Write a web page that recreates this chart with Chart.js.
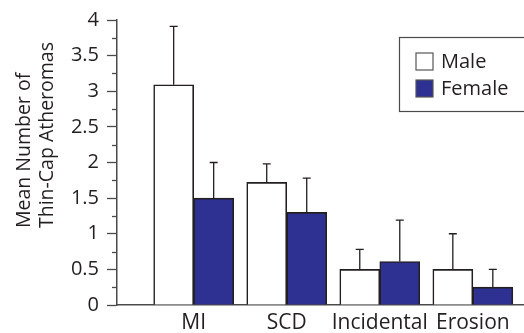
<!DOCTYPE html>
<html><head><meta charset="utf-8">
<script src="https://cdn.jsdelivr.net/npm/chart.js@4/dist/chart.umd.min.js"></script>
<style>html,body{margin:0;padding:0;background:#fff}#wrap{width:524px;height:333px;position:relative}</style>
</head><body><div id="wrap"><canvas id="c"></canvas></div>
<script>
const categories = ['MI', 'SCD', 'Incidental', 'Erosion'];
const seriesLabels = ['Male', 'Female'];
const maleValues = [3.09, 1.72, 0.50, 0.50];
const maleErrors = [0.82, 0.26, 0.28, 0.50];
const femaleValues = [1.50, 1.30, 0.61, 0.25];
const femaleErrors = [0.50, 0.48, 0.58, 0.25];
const yTickValues = [0, 0.25, 0.5, 0.75, 1, 1.25, 1.5, 1.75, 2, 2.25, 2.5, 2.75, 3, 3.25, 3.5, 3.75, 4];
const yTitleLines = ['Mean Number of', 'Thin-Cap Atheromas'];

const FONT = '"Open Sans", "DejaVu Sans", sans-serif';
const INK = '#231f20';
const AXIS = '#4a4a4a';
const isMajor = v => Math.abs(v * 2 - Math.round(v * 2)) < 1e-6;

const errorsBy = [maleErrors, femaleErrors];

const extras = {
  id: 'extras',
  afterDatasetsDraw(chart) {
    const ctx = chart.ctx, y = chart.scales.y;
    chart.data.datasets.forEach((ds, di) => {
      const meta = chart.getDatasetMeta(di);
      meta.data.forEach((bar, i) => {
        const top = y.getPixelForValue(ds.data[i].y + errorsBy[di][i]);
        ctx.save();
        ctx.strokeStyle = INK; ctx.lineWidth = 1.3;
        ctx.beginPath();
        ctx.moveTo(bar.x, bar.y); ctx.lineTo(bar.x, top);
        ctx.moveTo(bar.x - 4, top); ctx.lineTo(bar.x + 4, top);
        ctx.stroke();
        ctx.restore();
      });
    });
  },
  afterDraw(chart) {
    const ctx = chart.ctx, y = chart.scales.y, area = chart.chartArea;
    ctx.save();
    ctx.strokeStyle = AXIS; ctx.lineWidth = 1.3;
    y.ticks.forEach(t => {
      if (!isMajor(t.value)) {
        const py = Math.round(y.getPixelForValue(t.value)) + 0.5;
        ctx.beginPath(); ctx.moveTo(area.left - 5, py); ctx.lineTo(area.left, py); ctx.stroke();
      }
    });
    ctx.restore();
    ctx.save();
    ctx.fillStyle = INK;
    ctx.font = '19.5px ' + FONT;
    ctx.textAlign = 'left'; ctx.textBaseline = 'alphabetic';
    const startY = y.getPixelForValue(1.08);
    ctx.translate(0, startY);
    ctx.rotate(-Math.PI / 2);
    ctx.fillText(yTitleLines[0], 0, 30);
    ctx.fillText(yTitleLines[1], 0, 53);
    ctx.restore();
    ctx.save();
    const lx = 399.5, ly = 37.5;
    ctx.strokeStyle = AXIS; ctx.lineWidth = 1.2;
    ctx.strokeRect(lx, ly, 140, 74);
    ctx.font = '20px ' + FONT; ctx.textBaseline = 'middle'; ctx.textAlign = 'left';
    chart.data.datasets.forEach((ds, i) => {
      const sy = ly + 15.5 + i * 27;
      ctx.fillStyle = ds.backgroundColor;
      ctx.fillRect(lx + 16.5, sy, 17, 17);
      ctx.strokeStyle = '#555'; ctx.lineWidth = 1.2;
      ctx.strokeRect(lx + 16.5, sy, 17, 17);
      ctx.fillStyle = INK;
      ctx.fillText(ds.label, lx + 41.5, sy + 9);
    });
    ctx.restore();
  }
};

const toPoints = vals => vals.map((v, i) => ({ x: i + 1, y: v }));

new Chart(document.getElementById('c'), {
  type: 'bar',
  data: {
    datasets: [
      { label: seriesLabels[0], data: toPoints(maleValues), backgroundColor: '#ffffff', borderColor: INK, borderWidth: 1.6, barThickness: 40 },
      { label: seriesLabels[1], data: toPoints(femaleValues), backgroundColor: '#2e3192', borderColor: INK, borderWidth: 1.6, barThickness: 40 }
    ]
  },
  options: {
    responsive: true, maintainAspectRatio: false, animation: false,
    devicePixelRatio: 1,
    layout: { padding: { top: 19, right: 0, left: 0, bottom: 0 } },
    plugins: { legend: { display: false }, tooltip: { enabled: false } },
    scales: {
      x: {
        type: 'linear', min: 0.176, max: 4.55, offset: false,
        afterBuildTicks: s => { s.ticks = categories.map((c, i) => ({ value: i + 1 })); },
        ticks: { callback: v => categories[Math.round(v) - 1] || '', color: INK, font: { family: FONT, size: 21 }, padding: 5, autoSkip: false, maxRotation: 0 },
        grid: { display: true, offset: false, drawOnChartArea: false, drawTicks: false },
        border: { color: AXIS, width: 1.5 },
        afterFit: s => { s.height = 28; }
      },
      y: {
        min: 0, max: 4,
        afterBuildTicks: s => { s.ticks = yTickValues.map(v => ({ value: v })); },
        ticks: { callback: v => isMajor(v) ? String(v) : '', color: INK, font: { family: FONT, size: 20 }, padding: 8, autoSkip: false },
        grid: { drawOnChartArea: false, tickLength: 10, tickWidth: 1.3, tickColor: c => (c.tick && isMajor(c.tick.value)) ? AXIS : 'rgba(0,0,0,0)' },
        border: { color: AXIS, width: 1.5 },
        afterFit: s => { s.width = 117; }
      }
    }
  },
  plugins: [extras]
});
</script>
</body></html>
